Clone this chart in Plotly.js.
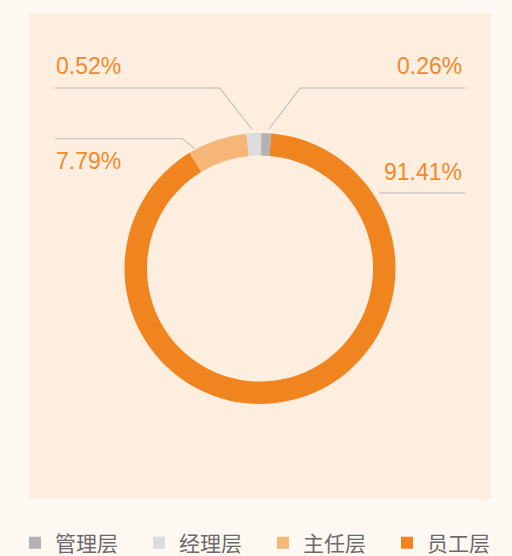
<!DOCTYPE html>
<html>
<head>
<meta charset="utf-8">
<script src="https://cdn.plot.ly/plotly-3.0.1.min.js"></script>
<style>
html,body{margin:0;padding:0;background:#fdf8f2;}
#chart{width:512px;height:556px;}
</style>
</head>
<body>
<div id="chart"></div>
<script>
// Data
const categories = ['管理层', '经理层', '主任层', '员工层'];
const shareLabels = ['0.26%', '0.52%', '7.79%', '91.41%'];
// slice sizes as drawn in the picture (small slices are drawn with a minimum angle)
const sliceValues = [1.19, 1.75, 7.1, 89.96];
const sliceColors = ['#b3b3b3', '#dcdcdc', '#f6b678', '#f0841f'];

const W = 512, H = 556;
const px = x => x / W;
const py = y => 1 - y / H;

const cx = 260, cy = 268.5, R = 135.5;

const trace = {
  type: 'pie',
  labels: categories,
  values: sliceValues,
  sort: false,
  direction: 'counterclockwise',
  rotation: 0.5,
  hole: 0.834,
  textinfo: 'none',
  marker: {colors: sliceColors, line: {width: 0}},
  domain: {x: [px(cx - R), px(cx + R)], y: [py(cy + R), py(cy - R)]},
  hoverinfo: 'label+text',
  text: shareLabels,
  showlegend: true
};

const lineStyle = {color: '#cbc8c4', width: 1.3};
function pathOf(pts) {
  return pts.map((p, i) => (i ? 'L' : 'M') + px(p[0]) + ',' + py(p[1])).join(' ');
}
const leaderPaths = [
  [[268.7, 129.3], [300.3, 88], [465, 88]],
  [[252, 129.3], [219.7, 88], [55, 88]],
  [[195, 149], [182.3, 138.7], [55, 138.7]],
  [[379, 193], [465, 193]]
];
const labelPos = [
  {x: 464, y: 66, xanchor: 'right'},
  {x: 54, y: 66, xanchor: 'left'},
  {x: 54, y: 161, xanchor: 'left'},
  {x: 464, y: 172, xanchor: 'right'}
];

const shapes = [
  {type: 'rect', xref: 'paper', yref: 'paper', x0: px(29), x1: px(491), y0: py(499), y1: py(13),
   fillcolor: '#feeedf', line: {width: 0}, layer: 'below'}
].concat(leaderPaths.map(p => ({type: 'path', xref: 'paper', yref: 'paper', path: pathOf(p), line: lineStyle})));

const annotations = shareLabels.map((t, i) => ({
  text: t, xref: 'paper', yref: 'paper', x: px(labelPos[i].x), y: py(labelPos[i].y),
  xanchor: labelPos[i].xanchor, yanchor: 'middle', showarrow: false,
  font: {family: 'Liberation Sans, Arial, sans-serif', size: 23, color: '#f08a2c'}
}));

const layout = {
  width: W, height: H,
  margin: {l: 0, r: 0, t: 0, b: 0, autoexpand: false},
  paper_bgcolor: '#fdf8f2',
  plot_bgcolor: 'rgba(0,0,0,0)',
  shapes: shapes,
  annotations: annotations,
  legend: {
    orientation: 'h', x: px(15), xanchor: 'left', y: py(543), yanchor: 'middle',
    font: {family: 'Noto Sans CJK SC, sans-serif', size: 21, color: '#6b6b6b'},
    entrywidth: 79, entrywidthmode: 'pixels',
    bgcolor: 'rgba(0,0,0,0)', traceorder: 'normal'
  }
};

Plotly.newPlot('chart', [trace], layout, {displayModeBar: false, staticPlot: true});
</script>
</body>
</html>
